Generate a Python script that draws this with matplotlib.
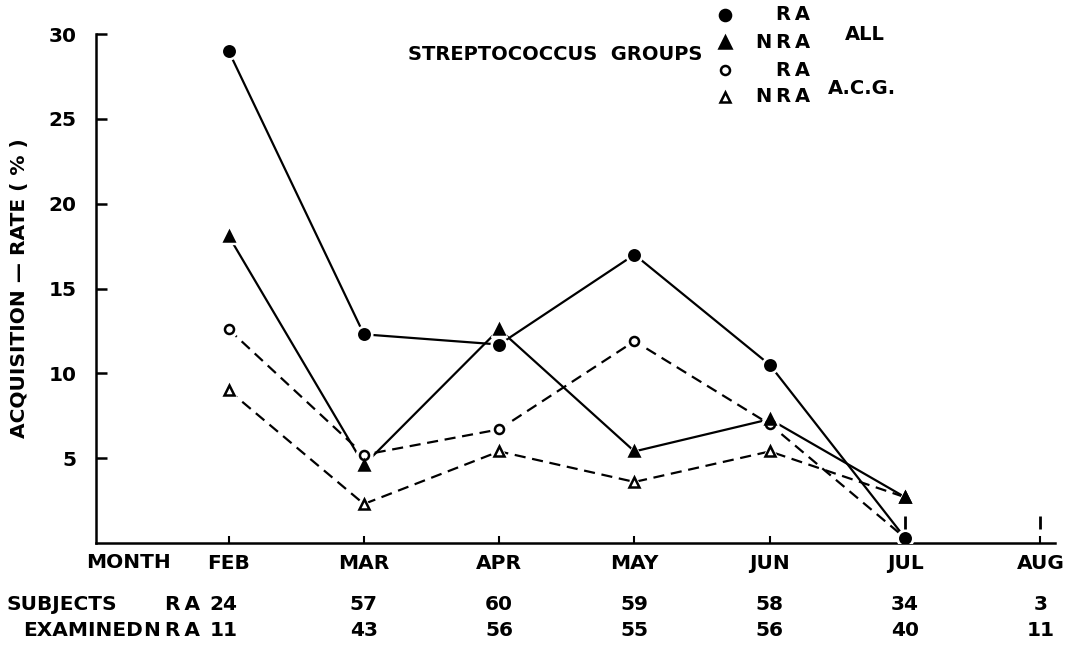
import matplotlib
matplotlib.use("Agg")
import matplotlib.pyplot as plt
from matplotlib.transforms import blended_transform_factory

# ---------------- data ----------------
months = ["FEB", "MAR", "APR", "MAY", "JUN", "JUL", "AUG"]
ra_all = [29.0, 12.3, 11.7, 17.0, 10.5, 0.3]
nra_all = [18.1, 4.6, 12.6, 5.4, 7.3, 2.7]
ra_acg = [12.6, 5.2, 6.7, 11.9, 7.0, 0.3]
nra_acg = [9.0, 2.3, 5.4, 3.6, 5.4, 2.7]
subjects_ra = [24, 57, 60, 59, 58, 34, 3]
subjects_nra = [11, 43, 56, 55, 56, 40, 11]
yticks = [5, 10, 15, 20, 25, 30]
small_marks = ["JUL", "AUG"]

FONT = dict(family="DejaVu Sans", fontweight="bold", color="black")
FS = 14.5
RA = "R\u2009A"
NRA = "N\u2009R\u2009A"

fig = plt.figure(figsize=(10.67, 6.47), dpi=100)
ax = fig.add_axes([0.0900, 0.1607, 0.899, 0.7867])

xs = list(range(len(ra_all)))
dash = (0, (5, 3))
series = [
    (ra_acg, "o", "white", dash),
    (nra_acg, "^", "white", dash),
    (nra_all, "^", "black", "-"),
    (ra_all, "o", "black", "-"),
]
for vals, mk, fc, ls in series:
    ax.plot(xs, vals, color="black", lw=1.6, ls=ls, zorder=2)
for vals, mk, fc, ls in series:
    ax.plot(xs, vals, ls="none", marker=mk, ms=12, mfc="white", mec="white", zorder=3)
for k, (vals, mk, fc, ls) in enumerate(series):
    ax.plot(xs, vals, ls="none", marker=mk, ms=7.5 if fc == "black" else 6.5,
            mfc=fc, mec="black", mew=1.8, zorder=4 + k)

# small vertical marks above the axis
mark_x = [months.index(m) for m in small_marks]
ax.vlines(mark_x, 0.8, 1.6, color="black", lw=2, zorder=10)

ax.set_xlim(-0.98, 6.11)
ax.set_ylim(0, 30)
for s in ["top", "right"]:
    ax.spines[s].set_visible(False)
ax.spines["left"].set_linewidth(1.8)
ax.spines["bottom"].set_linewidth(1.8)

ax.set_yticks(yticks)
ax.set_yticklabels([str(v) for v in yticks], **FONT, fontsize=FS)
ax.tick_params(axis="y", direction="in", length=8, width=1.8, pad=14)
ax.set_xticks(range(len(months)))
ax.set_xticklabels(months, **FONT, fontsize=FS)
ax.tick_params(axis="x", direction="in", length=5, width=1.5, pad=8)

ax.set_ylabel("ACQUISITION \u2014 RATE ( % )", **FONT, fontsize=FS, labelpad=14)

# MONTH label and subject table
tr = blended_transform_factory(ax.transData, fig.transFigure)
fig.text(128 / 1067, 1 - 562 / 647, "MONTH", ha="center", va="center", fontsize=FS, **FONT)
y1 = 1 - 605 / 647
y2 = 1 - 631 / 647
fig.text(7 / 1067, y1, "SUBJECTS", ha="left", va="center", fontsize=FS, **FONT)
fig.text(23 / 1067, y2, "EXAMINED", ha="left", va="center", fontsize=FS, **FONT)
fig.text(200 / 1067, y1, RA, ha="right", va="center", fontsize=FS, **FONT)
fig.text(200 / 1067, y2, NRA, ha="right", va="center", fontsize=FS, **FONT)
for i, (a, b) in enumerate(zip(subjects_ra, subjects_nra)):
    off = -0.04 if i == 0 else 0
    ax.text(i + off, y1, str(a), transform=tr, ha="center", va="center", fontsize=FS, **FONT)
    ax.text(i + off, y2, str(b), transform=tr, ha="center", va="center", fontsize=FS, **FONT)

# legend block (figure coords)
def fy(py):
    return 1 - py / 647

fig.text(408 / 1067, fy(54), "STREPTOCOCCUS  GROUPS", ha="left", va="center", fontsize=14, **FONT)
leg = [("o", "black", RA, 15), ("^", "black", NRA, 42), ("o", "white", RA, 70), ("^", "white", NRA, 97)]
for mk, fc, lab, py in leg:
    fig.lines.append(plt.Line2D([725 / 1067], [fy(py)], transform=fig.transFigure, marker=mk,
                                ms=8 if fc == "black" else 6.5, mfc=fc, mec="black", mew=1.8, ls="none"))
    fig.text(810 / 1067, fy(py), lab, ha="right", va="center", fontsize=14, **FONT)
fig.text(845 / 1067, fy(35), "ALL", ha="left", va="center", fontsize=14, **FONT)
fig.text(828 / 1067, fy(88), "A.C.G.", ha="left", va="center", fontsize=14, **FONT)

fig.savefig("out.png", dpi=100, facecolor="white")
